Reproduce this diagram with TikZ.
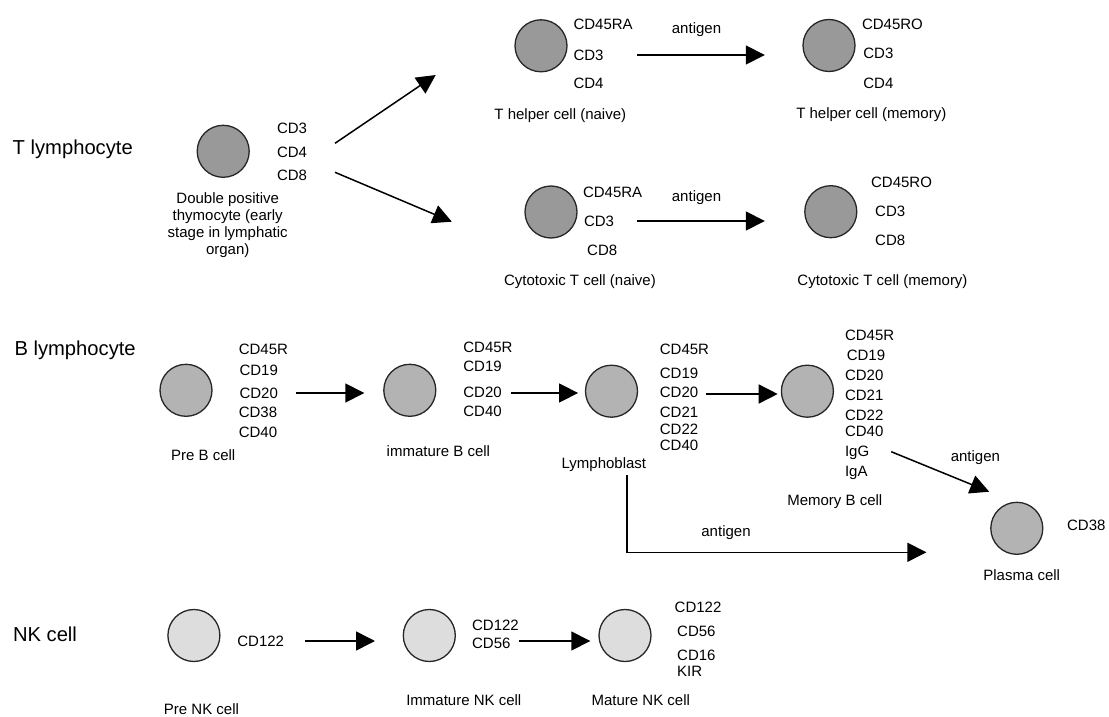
\documentclass[tikz,border=0pt]{standalone}
\usepackage{fontspec}
\setmainfont{Liberation Sans}
\usetikzlibrary{arrows.meta}
\definecolor{tgray}{HTML}{999999}
\definecolor{bgray}{HTML}{B3B3B3}
\definecolor{ngray}{HTML}{DDDDDD}
\begin{document}
\begin{tikzpicture}[x=1pt,y=-1pt,
  cell/.style={circle, draw=black!85, line width=1.3pt, minimum size=52pt, inner sep=0pt},
  cellT/.style={cell, fill=tgray},
  cellB/.style={cell, fill=bgray},
  cellN/.style={cell, fill=ngray},
  lab/.style={anchor=base west, inner sep=0pt, font=\fontsize{15}{17}\selectfont},
  captxt/.style={anchor=base, inner sep=0pt, align=center, font=\fontsize{15}{17}\selectfont},
  hdr/.style={anchor=base west, inner sep=0pt, font=\fontsize{20.2}{22}\selectfont},
  arr/.style={line width=1.5pt, -{Triangle[length=19pt,width=19pt]}}]
\useasboundingbox (0,0) rectangle (1109,717);
% ---------- T lymphocyte ----------
\node[hdr] (tl) at (12.5,154.3) {T lymphocyte};
\node[cellT] (dp) at (223.2,151.3) {};
\node[lab] (dp1) at (276.8,133.3) {CD3};
\node[lab] (dp2) at (276.8,157.3) {CD4};
\node[lab] (dp3) at (276.8,180) {CD8};
\node[captxt] (dpc) at (227.7,254) {Double positive\\thymocyte (early\\stage in lymphatic\\organ)};
\coordinate (a1s) at (335,143.3);
\coordinate (a1e) at (435.7,75);
\coordinate (a2s) at (335,172.3);
\coordinate (a2e) at (451.8,221.7);
\draw[arr] (a1s) -- (a1e);
\draw[arr] (a2s) -- (a2e);
% T helper naive
\node[cellT] (thn) at (541,45.8) {};
\node[lab] (thn1) at (573.3,30) {CD45RA};
\node[lab] (thn2) at (573.3,60.7) {CD3};
\node[lab] (thn3) at (573.3,88.3) {CD4};
\node[captxt] (thnc) at (560.3,119.3) {T helper cell (naive)};
\node[captxt] (ag1) at (696.5,33.3) {antigen};
\coordinate (a3s) at (637,55);
\coordinate (a3e) at (764.8,55);
\draw[arr] (a3s) -- (a3e);
% T helper memory
\node[cellT] (thm) at (829,45.5) {};
\node[lab] (thm1) at (861.8,30) {CD45RO};
\node[lab] (thm2) at (863.2,58.3) {CD3};
\node[lab] (thm3) at (863.2,88.3) {CD4};
\node[captxt] (thmc) at (871.3,118.3) {T helper cell (memory)};
% Cytotoxic naive
\node[cellT] (ctn) at (551,212) {};
\node[lab] (ctn1) at (582.8,197.3) {CD45RA};
\node[lab] (ctn2) at (583.8,226.7) {CD3};
\node[lab] (ctn3) at (587,255) {CD8};
\node[captxt] (ctnc) at (580,285) {Cytotoxic T cell (naive)};
\node[captxt] (ag2) at (696.5,201.7) {antigen};
\coordinate (a4s) at (637,221);
\coordinate (a4e) at (764.8,221);
\draw[arr] (a4s) -- (a4e);
% Cytotoxic memory
\node[cellT] (ctm) at (830.8,211.7) {};
\node[lab] (ctm1) at (870.9,187.3) {CD45RO};
\node[lab] (ctm2) at (875,216) {CD3};
\node[lab] (ctm3) at (875,245) {CD8};
\node[captxt] (ctmc) at (882.5,285) {Cytotoxic T cell (memory)};
% ---------- B lymphocyte ----------
\node[hdr] (bl) at (14.3,355) {B lymphocyte};
\node[cellB] (preb) at (186,390.3) {};
\node[lab] (preb1) at (238.6,354) {CD45R};
\node[lab] (preb2) at (239.3,375) {CD19};
\node[lab] (preb3) at (239.3,398.3) {CD20};
\node[lab] (preb4) at (238.6,417.3) {CD38};
\node[lab] (preb5) at (238.6,437.3) {CD40};
\node[captxt] (prebc) at (203.2,460.7) {Pre B cell};
\coordinate (b1s) at (295.7,393);
\coordinate (b1e) at (364.3,393);
\draw[arr] (b1s) -- (b1e);
\node[cellB] (imb) at (409.8,390.3) {};
\node[lab] (imb1) at (463.2,352.7) {CD45R};
\node[lab] (imb2) at (463.2,371.7) {CD19};
\node[lab] (imb3) at (463.2,397.7) {CD20};
\node[lab] (imb4) at (463.2,416.7) {CD40};
\node[captxt] (imbc) at (438.4,456.7) {immature B cell};
\coordinate (b2s) at (510.7,393);
\coordinate (b2e) at (578.1,393);
\draw[arr] (b2s) -- (b2e);
\node[cellB] (lyb) at (611.5,391.2) {};
\node[lab] (lyb1) at (659.7,354) {CD45R};
\node[lab] (lyb2) at (659.7,378.3) {CD19};
\node[lab] (lyb3) at (659.7,397.3) {CD20};
\node[lab] (lyb4) at (659.7,417.3) {CD21};
\node[lab] (lyb5) at (659.7,434) {CD22};
\node[lab] (lyb6) at (659.7,450.7) {CD40};
\node[captxt] (lybc) at (603.9,468.3) {Lymphoblast};
\coordinate (b3s) at (706.2,394);
\coordinate (b3e) at (777.7,394);
\draw[arr] (b3s) -- (b3e);
\node[cellB] (meb) at (807.4,391.2) {};
\node[lab] (meb1) at (844.8,340.7) {CD45R};
\node[lab] (meb2) at (846.6,360) {CD19};
\node[lab] (meb3) at (844.8,380) {CD20};
\node[lab] (meb4) at (844.8,400) {CD21};
\node[lab] (meb5) at (844.8,420.7) {CD22};
\node[lab] (meb6) at (844.8,436.7) {CD40};
\node[lab] (meb7) at (844.8,456.7) {IgG};
\node[lab] (meb8) at (844.8,476) {IgA};
\node[captxt] (mebc) at (834.8,505.7) {Memory B cell};
\coordinate (b4s) at (891.2,451.7);
\coordinate (b4e) at (989.2,491.7);
\draw[arr] (b4s) -- (b4e);
\node[captxt] (ag3) at (975.4,461.7) {antigen};
\node[cellB] (pla) at (1016.8,528.3) {};
\node[lab] (pla1) at (1066.9,530.7) {CD38};
\node[captxt] (plac) at (1021.7,580) {Plasma cell};
\coordinate (b5s) at (627.1,475);
\coordinate (b5e) at (926.4,552.3);
\draw[arr] (b5s) |- (b5e);
\node[captxt] (ag4) at (726,536.7) {antigen};
% ---------- NK cell ----------
\node[hdr] (nk) at (12.8,641.7) {NK cell};
\node[cellN] (pnk) at (193.9,635.5) {};
\node[lab] (pnk1) at (237.2,646.7) {CD122};
\node[captxt] (pnkc) at (201.5,714) {Pre NK cell};
\coordinate (n1s) at (305.1,641);
\coordinate (n1e) at (375,641);
\draw[arr] (n1s) -- (n1e);
\node[cellN] (ink) at (429.3,635.5) {};
\node[lab] (ink1) at (471.9,630) {CD122};
\node[lab] (ink2) at (471.9,648.3) {CD56};
\node[captxt] (inkc) at (463.8,705) {Immature NK cell};
\coordinate (n2s) at (519.4,641);
\coordinate (n2e) at (590.3,641);
\draw[arr] (n2s) -- (n2e);
\node[cellN] (mnk) at (625,635.5) {};
\node[lab] (mnk1) at (674.5,612.7) {CD122};
\node[lab] (mnk2) at (677,636) {CD56};
\node[lab] (mnk3) at (677,660) {CD16};
\node[lab] (mnk4) at (677,676.7) {KIR};
\node[captxt] (mnkc) at (640.8,705) {Mature NK cell};
\end{tikzpicture}
\end{document}
